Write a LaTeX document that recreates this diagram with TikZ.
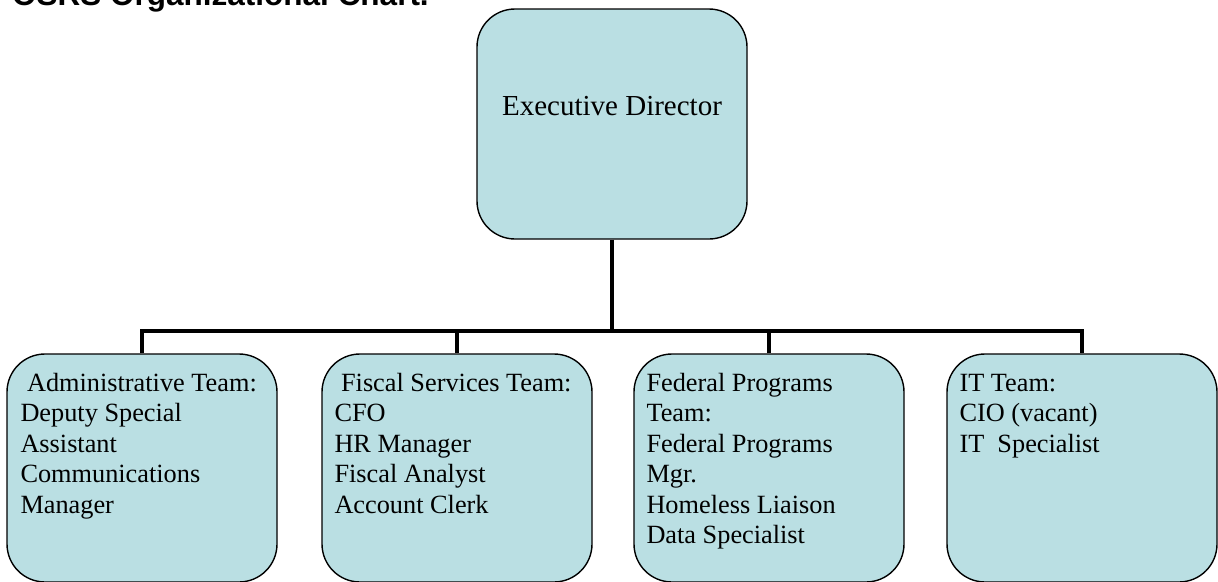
\documentclass[tikz,border=0pt]{standalone}
\usepackage{fontspec}
\setmainfont{Liberation Serif}
\newfontfamily\titlefont{Liberation Sans}
\usepackage{tikz}
\usetikzlibrary{positioning}
\definecolor{boxblue}{RGB}{186,223,227}
\newcommand{\teamlines}[1]{\parbox[t]{250pt}{\raggedright #1}}

\begin{document}
\begin{tikzpicture}[x=1pt, y=-1pt,
    orgbox/.style={draw=black, line width=1.4pt, fill=boxblue, rounded corners=38pt, minimum width=270pt, inner sep=0pt},
    teamtext/.style={anchor=base west, inner sep=0pt, font=\fontsize{26.3}{30.5}\selectfont},
    link/.style={line width=4pt}]
    % frame
    \useasboundingbox (0,0) rectangle (1218,581);
    \node[anchor=base west, inner sep=0pt, font=\titlefont\bfseries\fontsize{31.5}{36}\selectfont] (title) at (12,5) {OSRS Organizational Chart.};

    % boxes
    \node[orgbox, minimum height=230pt] (exec) at (612,124) {};
    \node[orgbox, minimum height=228pt] (admin) at (142,468) {};
    \node[orgbox, minimum height=228pt] (fiscal) at (457,468) {};
    \node[orgbox, minimum height=228pt] (federal) at (769,468) {};
    \node[orgbox, minimum height=228pt] (it) at (1082,468) {};

    % texts
    \node[anchor=base, inner sep=0pt, font=\fontsize{29}{34}\selectfont] (exectxt) at ([yshift=9pt]exec.center) {Executive Director};
    \node[teamtext] (admintxt) at ([shift={(14,38)}]admin.north west) {\teamlines{\ Administrative Team:\\Deputy Special\\Assistant\\Communications\\Manager}};
    \node[teamtext] (fiscaltxt) at ([shift={(13,38)}]fiscal.north west) {\teamlines{\ Fiscal Services Team:\\CFO\\HR Manager\\Fiscal Analyst\\Account Clerk}};
    \node[teamtext] (federaltxt) at ([shift={(13,38)}]federal.north west) {\teamlines{Federal Programs\\Team:\\Federal Programs\\Mgr.\\Homeless Liaison\\Data Specialist}};
    \node[teamtext] (ittxt) at ([shift={(13,38)}]it.north west) {\teamlines{IT Team:\\CIO (vacant)\\IT\ \ Specialist}};

    % links
    \coordinate (bus) at (612,331);
    \draw[link] (exec.south) -- (bus);
    \draw[link] (admin.north) |- (bus) -| (it.north);
    \draw[link] (fiscal.north) -- (fiscal.north |- bus);
    \draw[link] (federal.north) -- (federal.north |- bus);
\end{tikzpicture}
\end{document}
